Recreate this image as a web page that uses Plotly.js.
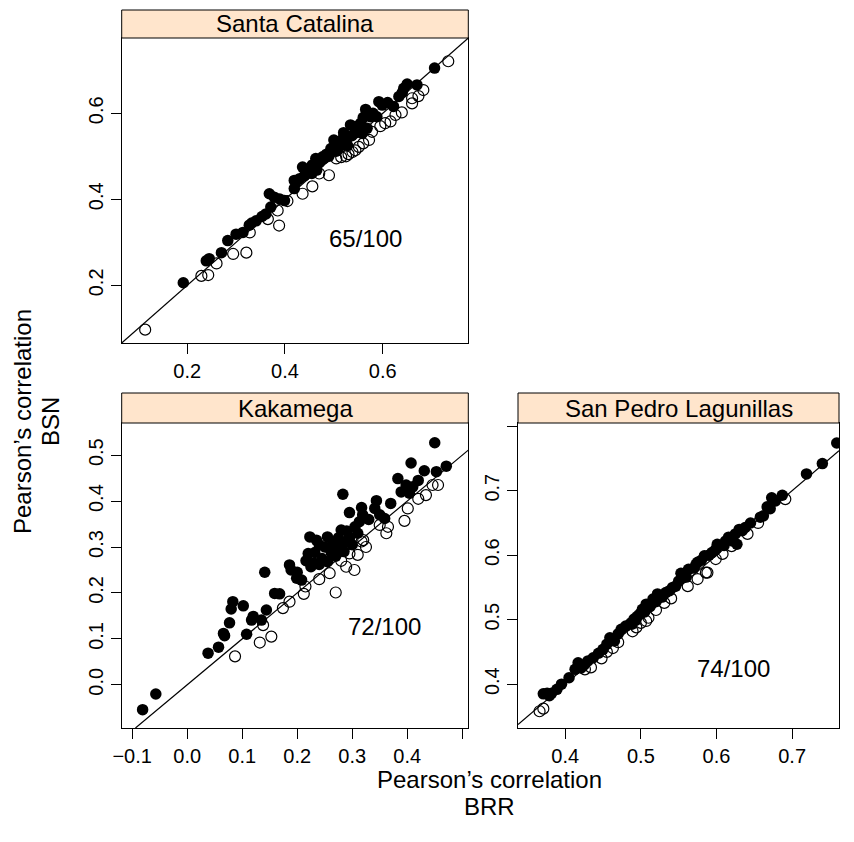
<!DOCTYPE html>
<html>
<head>
<meta charset="utf-8">
<script src="https://cdn.plot.ly/plotly-3.0.1.min.js"></script>
<style>html,body{margin:0;padding:0;background:#fff;}#chart{width:854px;height:842px;}</style>
</head>
<body>
<div id="chart"></div>
<script>
// ---------- DATA ----------
const panelNames = ["Santa Catalina", "Kakamega", "San Pedro Lagunillas"];
const panelCounts = ["65/100", "72/100", "74/100"];

// Santa Catalina: BRR (x) vs BSN (y)
const scFilledX = [0.706,0.670,0.643,0.633,0.622,0.592,0.599,0.565,0.588,0.575,0.534,0.555,0.544,0.558,0.568,0.500,0.494,0.515,0.528,0.520,0.510,0.537,0.463,0.477,0.436,0.456,0.470,0.419,0.440,0.455,0.465,0.422,0.419,0.368,0.378,0.389,0.399,0.371,0.361,0.341,0.353,0.300,0.314,0.283,0.270,0.239,0.192,0.485,0.505,0.525,0.545,0.548,0.580,0.610,0.640,0.650,0.490,0.450,0.430,0.332,0.327,0.245,0.560,0.520,0.480];
const scFilledY = [0.705,0.666,0.658,0.639,0.616,0.627,0.619,0.609,0.592,0.592,0.573,0.577,0.561,0.553,0.565,0.538,0.518,0.530,0.525,0.545,0.520,0.548,0.495,0.499,0.475,0.480,0.485,0.444,0.455,0.460,0.468,0.440,0.425,0.413,0.405,0.401,0.397,0.382,0.366,0.350,0.360,0.319,0.323,0.304,0.276,0.257,0.206,0.505,0.512,0.538,0.555,0.570,0.600,0.625,0.648,0.668,0.500,0.470,0.448,0.345,0.340,0.262,0.590,0.555,0.495];
const scOpenX = [0.734,0.683,0.660,0.660,0.639,0.626,0.605,0.616,0.578,0.572,0.551,0.544,0.538,0.525,0.530,0.515,0.490,0.456,0.436,0.405,0.385,0.365,0.388,0.328,0.294,0.321,0.260,0.229,0.243,0.114,0.673,0.595,0.560,0.505,0.470];
const scOpenY = [0.721,0.654,0.635,0.623,0.602,0.596,0.577,0.581,0.557,0.538,0.522,0.514,0.510,0.500,0.505,0.498,0.456,0.430,0.413,0.396,0.374,0.354,0.339,0.323,0.273,0.276,0.251,0.222,0.224,0.097,0.640,0.570,0.530,0.495,0.460];

// Kakamega
const kaFilledX = [0.450,0.407,0.471,0.431,0.453,0.383,0.398,0.410,0.389,0.404,0.283,0.344,0.317,0.341,0.350,0.359,0.319,0.313,0.305,0.280,0.290,0.295,0.285,0.223,0.235,0.255,0.265,0.250,0.275,0.220,0.232,0.262,0.216,0.230,0.245,0.255,0.270,0.285,0.300,0.225,0.240,0.141,0.186,0.189,0.199,0.208,0.159,0.168,0.083,0.080,0.102,0.120,0.117,0.135,0.144,0.077,0.066,0.068,0.108,0.057,0.038,-0.057,-0.081,0.330,0.370,0.420,0.310,0.260,0.200,0.275,0.295,0.240];
const kaFilledY = [0.527,0.483,0.476,0.466,0.464,0.449,0.435,0.431,0.420,0.417,0.415,0.401,0.386,0.384,0.370,0.362,0.370,0.355,0.344,0.337,0.335,0.320,0.310,0.322,0.315,0.322,0.310,0.300,0.300,0.286,0.288,0.288,0.270,0.265,0.275,0.268,0.280,0.290,0.305,0.257,0.262,0.245,0.261,0.250,0.232,0.228,0.199,0.198,0.181,0.165,0.172,0.149,0.141,0.141,0.163,0.135,0.112,0.107,0.110,0.082,0.069,-0.020,-0.054,0.360,0.395,0.445,0.330,0.295,0.245,0.320,0.375,0.305];
const kaOpenX = [0.446,0.456,0.434,0.401,0.395,0.350,0.365,0.362,0.320,0.295,0.310,0.317,0.289,0.304,0.259,0.270,0.215,0.212,0.186,0.174,0.138,0.153,0.132,0.087,0.325,0.280,0.240,0.420];
const kaOpenY = [0.435,0.435,0.413,0.384,0.357,0.348,0.344,0.330,0.315,0.286,0.283,0.312,0.257,0.250,0.243,0.201,0.214,0.198,0.181,0.167,0.130,0.105,0.092,0.062,0.300,0.270,0.230,0.405];

// San Pedro Lagunillas
const spFilledX = [0.759,0.740,0.719,0.687,0.673,0.667,0.671,0.658,0.662,0.638,0.634,0.625,0.616,0.621,0.627,0.601,0.599,0.594,0.584,0.575,0.553,0.563,0.570,0.573,0.546,0.542,0.533,0.522,0.516,0.507,0.502,0.498,0.491,0.474,0.459,0.465,0.450,0.437,0.417,0.413,0.421,0.395,0.382,0.371,0.379,0.645,0.610,0.590,0.580,0.560,0.550,0.538,0.528,0.512,0.505,0.495,0.487,0.480,0.470,0.455,0.444,0.430,0.425,0.405,0.389,0.376,0.520,0.500,0.493,0.488,0.612,0.630,0.678,0.556];
const spFilledY = [0.774,0.742,0.726,0.693,0.689,0.675,0.672,0.659,0.661,0.643,0.638,0.633,0.628,0.622,0.617,0.617,0.609,0.604,0.599,0.589,0.572,0.578,0.580,0.586,0.552,0.550,0.542,0.540,0.532,0.524,0.516,0.508,0.501,0.485,0.472,0.467,0.454,0.441,0.433,0.423,0.425,0.400,0.386,0.385,0.382,0.650,0.615,0.600,0.592,0.566,0.560,0.545,0.535,0.520,0.512,0.505,0.495,0.490,0.478,0.462,0.448,0.436,0.430,0.410,0.392,0.386,0.528,0.510,0.499,0.493,0.622,0.640,0.684,0.565];
const spOpenX = [0.691,0.641,0.608,0.599,0.586,0.588,0.562,0.575,0.531,0.520,0.507,0.494,0.489,0.463,0.448,0.426,0.434,0.366,0.371,0.500,0.510,0.540,0.620,0.655,0.470,0.455];
const spOpenY = [0.687,0.633,0.602,0.594,0.573,0.573,0.552,0.563,0.526,0.515,0.498,0.488,0.482,0.456,0.440,0.423,0.426,0.358,0.362,0.495,0.503,0.533,0.614,0.650,0.465,0.450];

// tick labels
const scTicks = [0.2, 0.4, 0.6];
const kaXTicks = [-0.1, 0.0, 0.1, 0.2, 0.3, 0.4, 0.5];
const kaXText = ["\u22120.1", "0.0", "0.1", "0.2", "0.3", "0.4", ""];
const kaYTicks = [0.0, 0.1, 0.2, 0.3, 0.4, 0.5];
const kaYText = ["0.0", "0.1", "0.2", "0.3", "0.4", "0.5"];
const spXTicks = [0.4, 0.5, 0.6, 0.7];
const spYTicks = [0.4, 0.5, 0.6, 0.7, 0.8];
const spYText = ["0.4", "0.5", "0.6", "0.7", ""];
const titleLine1 = "Pearson\u2019s correlation";
const xTitleLine2 = "BRR";
const yTitleLine2 = "BSN";

// ---------- LAYOUT / STYLE ----------
const W = 854, H = 842;
const FONT = "Liberation Sans, Arial, Helvetica, sans-serif";
const px = v => v / W;           // pixel x -> paper
const py = v => 1 - v / H;       // pixel y -> paper

const ranges = {
  sc: {x: [0.066, 0.775], y: [0.066, 0.775]},
  ka: {x: [-0.119, 0.511], y: [-0.094, 0.570]},
  sp: {x: [0.3375, 0.762], y: [0.332, 0.805]}
};
const boxes = {
  sc: {x: [121.7, 468.3], y: [38, 343], strip: [10, 38]},
  ka: {x: [121.7, 468.3], y: [423, 728], strip: [393, 423]},
  sp: {x: [518, 839], y: [423, 728], strip: [393, 423]}
};

function pts(x, y, filled, ax) {
  return {
    type: "scatter", mode: "markers", x: x, y: y,
    xaxis: ax[0], yaxis: ax[1], hoverinfo: "skip",
    marker: filled
      ? {symbol: "circle", size: 11.5, color: "#000", line: {width: 0}}
      : {symbol: "circle-open", size: 11, color: "#000", line: {width: 1.2, color: "#000"}},
    showlegend: false, cliponaxis: true
  };
}
function diag(r, ax) {
  const lo = Math.max(r.x[0], r.y[0]), hi = Math.min(r.x[1], r.y[1]);
  return {type: "scatter", mode: "lines", x: [lo, hi], y: [lo, hi], xaxis: ax[0], yaxis: ax[1],
          line: {color: "#000", width: 1.2}, hoverinfo: "skip", showlegend: false};
}

const data = [
  diag(ranges.sc, ["x", "y"]),
  pts(scFilledX, scFilledY, true, ["x", "y"]),
  pts(scOpenX, scOpenY, false, ["x", "y"]),
  diag(ranges.ka, ["x2", "y2"]),
  pts(kaFilledX, kaFilledY, true, ["x2", "y2"]),
  pts(kaOpenX, kaOpenY, false, ["x2", "y2"]),
  diag(ranges.sp, ["x3", "y3"]),
  pts(spFilledX, spFilledY, true, ["x3", "y3"]),
  pts(spOpenX, spOpenY, false, ["x3", "y3"])
];

function axis(range, domain, anchor, tv, tt, isY) {
  const a = {
    range: range, domain: domain, anchor: anchor,
    tickmode: "array", tickvals: tv, ticktext: tt,
    ticks: "outside", ticklen: 10, tickwidth: 1, tickcolor: "#000",
    showline: true, mirror: true, linecolor: "#000", linewidth: 1,
    showgrid: false, zeroline: false,
    tickfont: {family: FONT, size: 20, color: "#000"},
    fixedrange: true
  };
  a.tickangle = isY ? -90 : 0;
  return a;
}
const fmt = v => v.toFixed(1);

const layout = {
  width: W, height: H,
  margin: {l: 0, r: 0, t: 0, b: 0},
  paper_bgcolor: "#fff", plot_bgcolor: "#fff",
  showlegend: false,
  font: {family: FONT, color: "#000"},
  xaxis: axis(ranges.sc.x, [px(boxes.sc.x[0]), px(boxes.sc.x[1])], "y", scTicks, scTicks.map(fmt), false),
  yaxis: axis(ranges.sc.y, [py(boxes.sc.y[1]), py(boxes.sc.y[0])], "x", scTicks, scTicks.map(fmt), true),
  xaxis2: axis(ranges.ka.x, [px(boxes.ka.x[0]), px(boxes.ka.x[1])], "y2", kaXTicks, kaXText, false),
  yaxis2: axis(ranges.ka.y, [py(boxes.ka.y[1]), py(boxes.ka.y[0])], "x2", kaYTicks, kaYText, true),
  xaxis3: axis(ranges.sp.x, [px(boxes.sp.x[0]), px(boxes.sp.x[1])], "y3", spXTicks, spXTicks.map(fmt), false),
  yaxis3: axis(ranges.sp.y, [py(boxes.sp.y[1]), py(boxes.sp.y[0])], "x3", spYTicks, spYText, true),
  shapes: [],
  annotations: []
};

// strips
["sc", "ka", "sp"].forEach((k, i) => {
  const b = boxes[k];
  layout.shapes.push({type: "rect", xref: "paper", yref: "paper",
    x0: px(b.x[0]), x1: px(b.x[1]), y0: py(b.strip[1]), y1: py(b.strip[0]),
    fillcolor: "#FFE5CC", line: {color: "#000", width: 1}, layer: "above"});
  layout.annotations.push({xref: "paper", yref: "paper",
    x: px((b.x[0] + b.x[1]) / 2), y: py((b.strip[0] + b.strip[1]) / 2),
    text: panelNames[i], showarrow: false, xanchor: "center", yanchor: "middle",
    font: {family: FONT, size: 24, color: "#000"}});
});

// counts
const countPos = [[0.565, 0.310, "x", "y"], [0.359, 0.128, "x2", "y2"], [0.623, 0.424, "x3", "y3"]];
countPos.forEach((c, i) => {
  layout.annotations.push({xref: c[2], yref: c[3], x: c[0], y: c[1], text: panelCounts[i],
    showarrow: false, xanchor: "center", yanchor: "middle",
    font: {family: FONT, size: 24, color: "#000"}});
});

// axis titles (each line separately)
const tFont = {family: FONT, size: 24, color: "#000"};
layout.annotations.push({xref: "paper", yref: "paper", x: px(489), y: py(779), text: titleLine1,
  showarrow: false, xanchor: "center", yanchor: "middle", font: tFont, borderpad: 0});
layout.annotations.push({xref: "paper", yref: "paper", x: px(489), y: py(806), text: xTitleLine2,
  showarrow: false, xanchor: "center", yanchor: "middle", font: tFont, borderpad: 0});
layout.annotations.push({xref: "paper", yref: "paper", x: px(22), y: py(422), text: titleLine1,
  showarrow: false, textangle: -90, xanchor: "center", yanchor: "middle", font: tFont, borderpad: 0});
layout.annotations.push({xref: "paper", yref: "paper", x: px(50), y: py(422), text: yTitleLine2,
  showarrow: false, textangle: -90, xanchor: "center", yanchor: "middle", font: tFont, borderpad: 0});

Plotly.newPlot("chart", data, layout, {staticPlot: true, displayModeBar: false});
</script>
</body>
</html>
